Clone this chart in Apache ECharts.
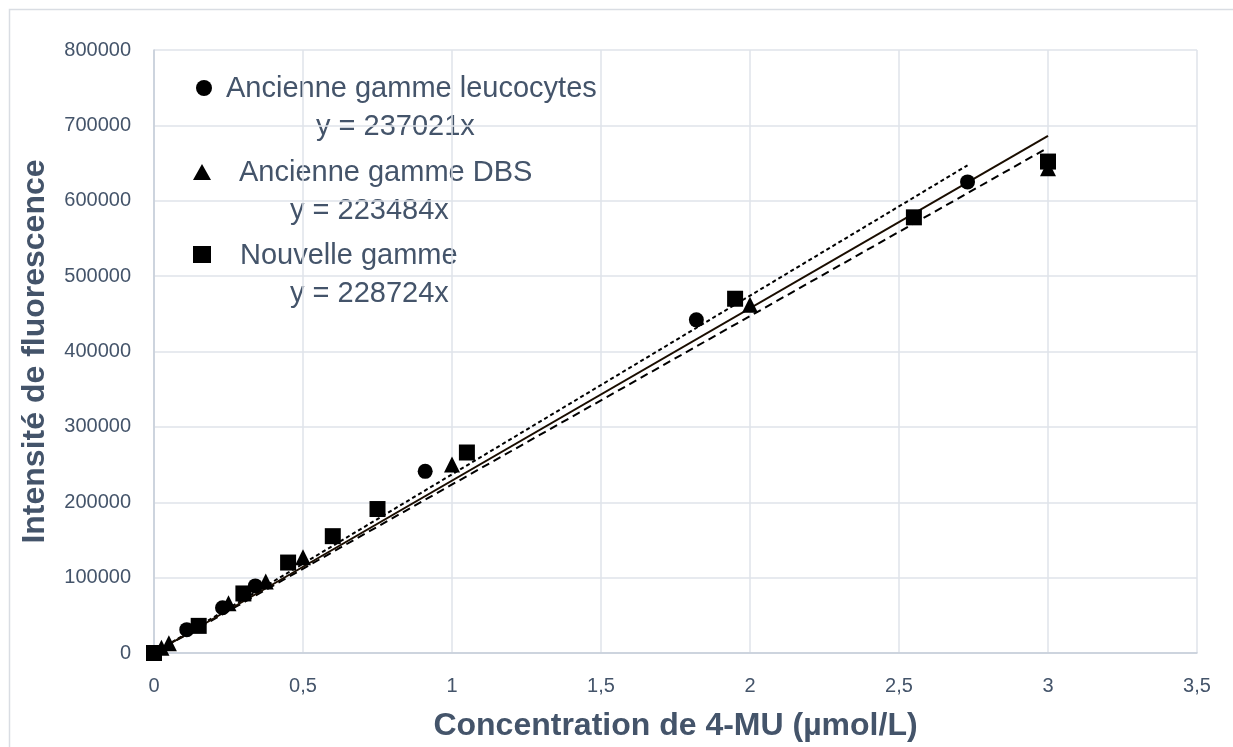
<!DOCTYPE html>
<html>
<head>
<meta charset="utf-8">
<script src="https://cdn.jsdelivr.net/npm/echarts@6/dist/echarts.min.js"></script>
<style>
html,body{margin:0;padding:0;background:#fff;}
#chart{width:1233px;height:747px;}
</style>
</head>
<body>
<div id="chart"></div>
<script>
// Data
const leucoX = [0, 0.11, 0.23, 0.34, 0.91, 1.82, 2.73];
const leucoY = [0, 31000, 60000, 89000, 241000, 442000, 625000];
const dbsX = [0, 0.025, 0.05, 0.25, 0.375, 0.5, 1, 2, 3];
const dbsY = [0, 7000, 13000, 66000, 95000, 127000, 250000, 462000, 643000];
const nouvX = [0, 0.15, 0.3, 0.45, 0.6, 0.75, 1.05, 1.95, 2.55, 3];
const nouvY = [0, 36000, 79000, 120000, 155000, 191000, 266000, 470000, 578000, 652000];
const seriesNames = ['Ancienne gamme leucocytes', 'Ancienne gamme DBS', 'Nouvelle gamme'];
const slopes = [237021, 223484, 228724];
const trendEnds = [2.73, 3, 3];
const xTicks = ['0', '0,5', '1', '1,5', '2', '2,5', '3', '3,5'];
const yTicks = ['0', '100000', '200000', '300000', '400000', '500000', '600000', '700000', '800000'];

const pair = (xs, ys) => xs.map((x, i) => [x, ys[i]]);
const trend = (k) => [[0, 0], [trendEnds[k], slopes[k] * trendEnds[k]]];

const TXT = '#44546A';
const FONT = '"Liberation Sans", Arial, sans-serif';
const LEG = '29px ' + FONT;

const chart = echarts.init(document.getElementById('chart'), null, {renderer: 'canvas'});
chart.setOption({
  backgroundColor: '#fff',
  animation: false,
  grid: {left: 154, right: 36, top: 50, bottom: 93},
  xAxis: {
    type: 'value', min: 0, max: 3.5, interval: 0.5,
    axisLine: {show: true, lineStyle: {color: '#c5cdd9', width: 1.5}},
    axisTick: {show: false},
    splitLine: {show: true, lineStyle: {color: '#dfe3ea', width: 1.5}},
    axisLabel: {
      color: TXT, fontFamily: FONT, fontSize: 20, margin: 23,
      formatter: (v) => xTicks[Math.round(v / 0.5)]
    },
    name: 'Concentration de 4-MU (µmol/L)',
    nameLocation: 'middle', nameGap: 57,
    nameTextStyle: {color: TXT, fontFamily: FONT, fontSize: 32, fontWeight: 'bold'}
  },
  yAxis: {
    type: 'value', min: 0, max: 800000, interval: 100000,
    axisLine: {show: true, lineStyle: {color: '#c5cdd9', width: 1.5}},
    axisTick: {show: false},
    splitLine: {show: true, lineStyle: {color: '#dfe3ea', width: 1.5}},
    axisLabel: {
      color: TXT, fontFamily: FONT, fontSize: 20, margin: 23,
      formatter: (v) => yTicks[Math.round(v / 100000)]
    },
    name: 'Intensité de fluorescence',
    nameLocation: 'middle', nameGap: 103,
    nameTextStyle: {color: TXT, fontFamily: FONT, fontSize: 32, fontWeight: 'bold'}
  },
  series: [
    {type: 'line', data: trend(0), symbol: 'none', lineStyle: {color: '#000', width: 2, type: [4, 3]}, z: 2},
    {type: 'line', data: trend(1), symbol: 'none', lineStyle: {color: '#000', width: 2, type: [8, 5]}, z: 2},
    {type: 'line', data: trend(2), symbol: 'none', lineStyle: {color: '#1a0d00', width: 2}, z: 2},
    {type: 'scatter', name: seriesNames[0], data: pair(leucoX, leucoY), symbol: 'circle', symbolSize: 15, itemStyle: {color: '#000', opacity: 1}, z: 3},
    {type: 'scatter', name: seriesNames[1], data: pair(dbsX, dbsY), symbol: 'triangle', symbolSize: 16, itemStyle: {color: '#000', opacity: 1}, z: 3},
    {type: 'scatter', name: seriesNames[2], data: pair(nouvX, nouvY), symbol: 'rect', symbolSize: 16, itemStyle: {color: '#000', opacity: 1}, z: 3}
  ],
  graphic: [
    {type: 'rect', left: 7, top: 7, shape: {width: 1240, height: 760}, style: {fill: 'none', stroke: '#d9dde3', lineWidth: 1.5}, silent: true},
    {type: 'circle', shape: {cx: 204, cy: 88, r: 8}, style: {fill: '#000'}},
    {type: 'text', x: 226, y: 89, style: {text: seriesNames[0], fill: TXT, font: LEG, textVerticalAlign: 'middle'}},
    {type: 'text', x: 316, y: 127, style: {text: 'y = ' + slopes[0] + 'x', fill: TXT, font: LEG, textVerticalAlign: 'middle'}},
    {type: 'polygon', shape: {points: [[202, 164], [211, 180], [193, 180]]}, style: {fill: '#000'}},
    {type: 'text', x: 239, y: 173, style: {text: seriesNames[1], fill: TXT, font: LEG, textVerticalAlign: 'middle'}},
    {type: 'text', x: 290, y: 211, style: {text: 'y = ' + slopes[1] + 'x', fill: TXT, font: LEG, textVerticalAlign: 'middle'}},
    {type: 'rect', shape: {x: 193, y: 246, width: 18, height: 17}, style: {fill: '#000'}},
    {type: 'text', x: 240, y: 256, style: {text: seriesNames[2], fill: TXT, font: LEG, textVerticalAlign: 'middle'}},
    {type: 'text', x: 290, y: 294, style: {text: 'y = ' + slopes[2] + 'x', fill: TXT, font: LEG, textVerticalAlign: 'middle'}}
  ]
});
</script>
</body>
</html>
